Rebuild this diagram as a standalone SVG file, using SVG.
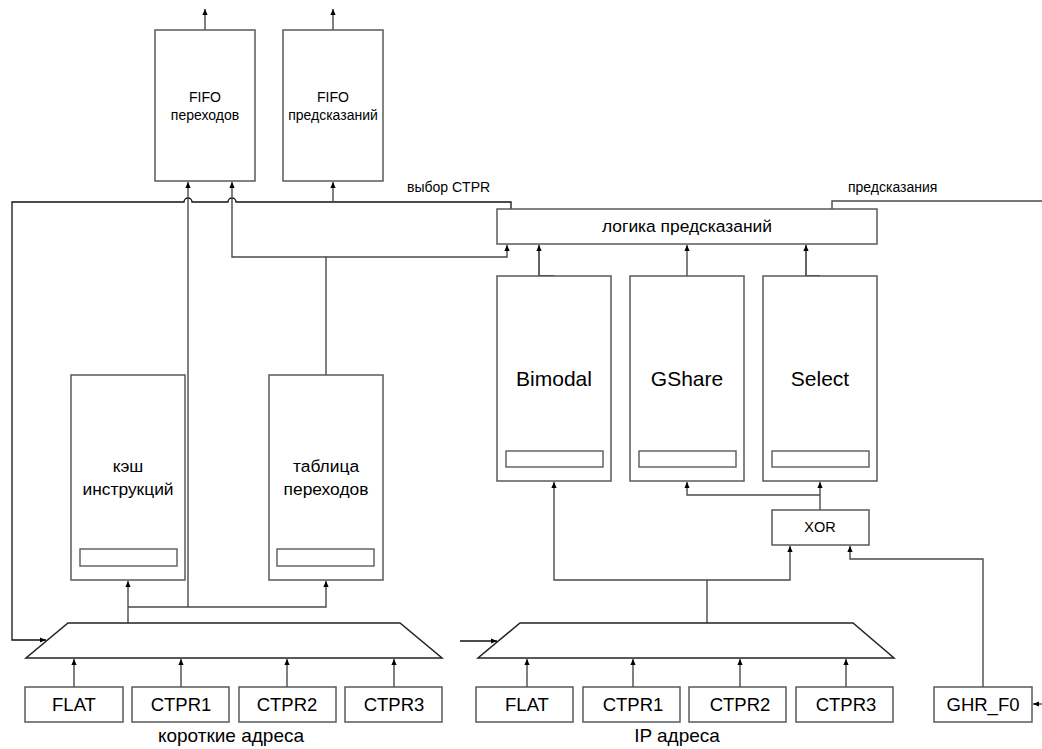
<svg xmlns="http://www.w3.org/2000/svg" width="1042" height="749" viewBox="0 0 1042 749">
<defs>
<marker id="arr" markerUnits="userSpaceOnUse" markerWidth="8" markerHeight="8" refX="6" refY="2.6" orient="auto">
<path d="M0,0 L6,2.6 L0,5.2 z" fill="#000"/>
</marker>
<style>
.box{fill:#fff;stroke:#5a5a5a;stroke-width:1.5}
.in{fill:#fff;stroke:#5a5a5a;stroke-width:1.4}
.ln{fill:none;stroke:#4a4a4a;stroke-width:1.4}
.blk{fill:none;stroke:#111;stroke-width:1.3}
.arr{marker-end:url(#arr)}
text{font-family:"Liberation Sans",Arial,sans-serif;fill:#000;text-anchor:middle}
.s14{font-size:14px}
.s17{font-size:17.4px}
.s18{font-size:18.5px}
.s21{font-size:21px}
.lbl{text-anchor:start;font-size:14px}
</style>
</defs>
<rect width="1042" height="749" fill="#fff"/>

<g id="connectors">
<path class="ln arr" d="M205,30 V9"/>
<path class="ln arr" d="M333,30 V9"/>
<path class="blk arr" d="M511,209 V202 H236 A4,4 0 0 0 228,202 H192 A4,4 0 0 0 184,202 H12 V640 H46"/>
<path class="ln arr" d="M333,202 V182"/>
<path class="ln arr" d="M326,375 V257 H232 V182"/>
<path class="ln arr" d="M326,257 H507 V245"/>
<path class="ln arr" d="M128,623 V581"/>
<path class="ln arr" d="M128,607 H326 V581"/>
<path class="ln arr" d="M188,607 V182"/>
<path class="ln arr" d="M74,687 V659"/>
<path class="ln arr" d="M181,687 V659"/>
<path class="ln arr" d="M287,687 V659"/>
<path class="ln arr" d="M394,687 V659"/>
<path class="ln arr" d="M527,687 V659"/>
<path class="ln arr" d="M633,687 V659"/>
<path class="ln arr" d="M740,687 V659"/>
<path class="ln arr" d="M846,687 V659"/>
<path class="ln arr" d="M707,623 V580 H554 V482"/>
<path class="ln arr" d="M707,580 H790 V546"/>
<path class="ln arr" d="M820,510 V482"/>
<path class="ln arr" d="M820,495 H687 V482"/>
<path class="ln arr" d="M983,687 V559 H850 V546"/>
<path class="ln arr" d="M1042,704 H1033"/>
<path class="blk arr" d="M460,641 H497"/>
<path class="blk arr" d="M554,276 H539 V245"/>
<path class="ln arr" d="M687,276 V245"/>
<path class="blk arr" d="M820,276 H806 V245"/>
<path class="ln" d="M832,209 V201 H1042"/>
</g>

<g id="fifo-perekhodov">
<rect class="box" x="155" y="30" width="100" height="151"/>
<text class="s14" x="205" y="102">FIFO</text>
<text class="s14" x="205" y="120">переходов</text>
</g>
<g id="fifo-predskazaniy">
<rect class="box" x="283" y="30" width="100" height="151"/>
<text class="s14" x="333" y="102">FIFO</text>
<text class="s14" x="333" y="120">предсказаний</text>
</g>

<g id="label-vybor">
<text class="lbl" x="407" y="192">выбор CTPR</text>
</g>
<g id="label-predskazaniya">
<text class="lbl" x="848" y="192">предсказания</text>
</g>

<g id="logika">
<rect class="box" x="497" y="209" width="380" height="35"/>
<text class="s17" x="687" y="232">логика предсказаний</text>
</g>

<g id="bimodal">
<rect class="box" x="497" y="276" width="114" height="205"/>
<rect class="in" x="506" y="451" width="97" height="16"/>
<text class="s21" x="554" y="386">Bimodal</text>
</g>
<g id="gshare">
<rect class="box" x="630" y="276" width="114" height="205"/>
<rect class="in" x="639" y="451" width="97" height="16"/>
<text class="s21" x="687" y="386">GShare</text>
</g>
<g id="select">
<rect class="box" x="763" y="276" width="114" height="205"/>
<rect class="in" x="772" y="451" width="97" height="16"/>
<text class="s21" x="820" y="386">Select</text>
</g>

<g id="kesh">
<rect class="box" x="71" y="375" width="114" height="205"/>
<rect class="in" x="80" y="549" width="97" height="17"/>
<text class="s17" x="128" y="472">кэш</text>
<text class="s17" x="128" y="495">инструкций</text>
</g>
<g id="tablica">
<rect class="box" x="269" y="375" width="114" height="205"/>
<rect class="in" x="277" y="549" width="97" height="17"/>
<text class="s17" x="326" y="472">таблица</text>
<text class="s17" x="326" y="495">переходов</text>
</g>

<g id="xor">
<rect class="box" x="772" y="510" width="97" height="35"/>
<text class="s14" x="820" y="532" style="font-size:14.5px">XOR</text>
</g>

<g id="mux-left">
<path class="box" d="M68,623 H400 L442,658 H26 Z" style="stroke:#222"/>
</g>
<g id="mux-right">
<path class="box" d="M520,623 H853 L894,658 H478 Z" style="stroke:#222"/>
</g>

<g id="flat-1">
<rect class="box" x="25" y="687" width="98" height="35"/>
<text class="s18" x="74" y="711">FLAT</text>
</g>
<g id="ctpr1-1">
<rect class="box" x="132" y="687" width="97" height="35"/>
<text class="s18" x="181" y="711">CTPR1</text>
</g>
<g id="ctpr2-1">
<rect class="box" x="239" y="687" width="97" height="35"/>
<text class="s18" x="287" y="711">CTPR2</text>
</g>
<g id="ctpr3-1">
<rect class="box" x="345" y="687" width="97" height="35"/>
<text class="s18" x="394" y="711">CTPR3</text>
</g>
<g id="label-korotkie">
<text x="231" y="742" style="font-size:19px">короткие адреса</text>
</g>

<g id="flat-2">
<rect class="box" x="476" y="687" width="97" height="35"/>
<text class="s18" x="527" y="711">FLAT</text>
</g>
<g id="ctpr1-2">
<rect class="box" x="583" y="687" width="97" height="35"/>
<text class="s18" x="633" y="711">CTPR1</text>
</g>
<g id="ctpr2-2">
<rect class="box" x="689" y="687" width="97" height="35"/>
<text class="s18" x="740" y="711">CTPR2</text>
</g>
<g id="ctpr3-2">
<rect class="box" x="796" y="687" width="97" height="35"/>
<text class="s18" x="846" y="711">CTPR3</text>
</g>
<g id="label-ip">
<text x="677" y="742" style="font-size:19px">IP адреса</text>
</g>

<g id="ghr-f0">
<rect class="box" x="934" y="687" width="98" height="35"/>
<text class="s18" x="983" y="711">GHR_F0</text>
</g>
</svg>
